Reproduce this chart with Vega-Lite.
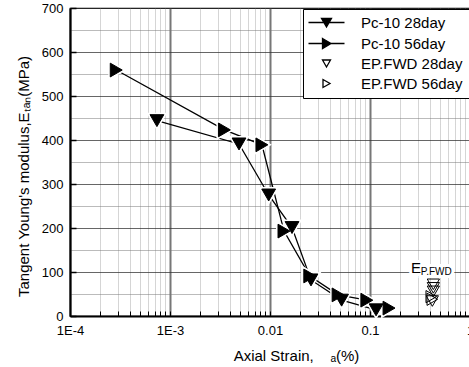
{
  "$schema": "https://vega.github.io/schema/vega-lite/v6.json",
  "width": 400,
  "height": 308,
  "autosize": {"type": "none"},
  "padding": {"left": 70, "top": 8, "right": 0, "bottom": 51},
  "background": "white",
  "config": {"font": "Liberation Sans", "view": {"stroke": "black", "strokeWidth": 1.2}},
  "datasets": {
    "pts": [
      {"series": "Pc-10 28day", "strain": 0.00074, "E": 444},
      {"series": "Pc-10 28day", "strain": 0.0049, "E": 391},
      {"series": "Pc-10 28day", "strain": 0.0097, "E": 275},
      {"series": "Pc-10 28day", "strain": 0.0166, "E": 201},
      {"series": "Pc-10 28day", "strain": 0.0257, "E": 82},
      {"series": "Pc-10 28day", "strain": 0.052, "E": 36},
      {"series": "Pc-10 28day", "strain": 0.115, "E": 14},
      {"series": "Pc-10 56day", "strain": 0.00029, "E": 559},
      {"series": "Pc-10 56day", "strain": 0.0035, "E": 423},
      {"series": "Pc-10 56day", "strain": 0.0083, "E": 389},
      {"series": "Pc-10 56day", "strain": 0.0138, "E": 193},
      {"series": "Pc-10 56day", "strain": 0.025, "E": 91},
      {"series": "Pc-10 56day", "strain": 0.048, "E": 48},
      {"series": "Pc-10 56day", "strain": 0.093, "E": 36},
      {"series": "Pc-10 56day", "strain": 0.155, "E": 18},
      {"series": "EP.FWD 28day", "strain": 0.43, "E": 72},
      {"series": "EP.FWD 28day", "strain": 0.43, "E": 64},
      {"series": "EP.FWD 28day", "strain": 0.43, "E": 56},
      {"series": "EP.FWD 28day", "strain": 0.42, "E": 34},
      {"series": "EP.FWD 56day", "strain": 0.41, "E": 44},
      {"series": "EP.FWD 56day", "strain": 0.42, "E": 38}
    ],
    "lblE": [{"strain": 0.288, "E": 109, "t": "E"}],
    "lblSub": [{"strain": 0.322, "E": 99, "t": "P.FWD"}]
  },
  "encoding": {
    "x": {
      "field": "strain", "type": "quantitative",
      "scale": {"type": "log", "domain": [0.0001, 1], "nice": false},
      "axis": {
        "values": [0.0001,0.0002,0.0003,0.0004,0.0005,0.0006,0.0007,0.0008,0.0009,0.001,0.002,0.003,0.004,0.005,0.006,0.007,0.008,0.009,0.01,0.02,0.03,0.04,0.05,0.06,0.07,0.08,0.09,0.1,0.2,0.3,0.4,0.5,0.6,0.7,0.8,0.9,1],
        "labelExpr": "abs(log(datum.value)/LN10 - round(log(datum.value)/LN10)) < 0.001 ? (datum.value < 0.0005 ? '1E-4' : datum.value < 0.005 ? '1E-3' : datum.value < 0.05 ? '0.01' : datum.value < 0.5 ? '0.1' : '1') : ''",
        "labelOverlap": false,
        "labelFontSize": 13, "labelColor": "black", "labelPadding": 13, "labelFlush": false,
        "grid": true,
        "gridColor": {"condition": {"test": "abs(log(datum.value)/LN10 - round(log(datum.value)/LN10)) < 0.001", "value": "#777"}, "value": "#aaa"},
        "gridWidth": {"condition": {"test": "abs(log(datum.value)/LN10 - round(log(datum.value)/LN10)) < 0.001", "value": 2}, "value": 1},
        "gridDash": {"condition": {"test": "abs(log(datum.value)/LN10 - round(log(datum.value)/LN10)) < 0.001", "value": [1, 0]}, "value": [1, 1]},
        "domainColor": "black", "domainWidth": 2,
        "tickSize": -5, "tickColor": "black", "tickWidth": 1,
        "title": "Axial Strain,\u00a0\u00a0\u00a0\u00a0ₐ(%)",
        "titleFontSize": 15, "titleFontWeight": "normal", "titleColor": "black",
        "titleX": 226, "titleY": 39, "titleBaseline": "middle"
      }
    },
    "y": {
      "field": "E", "type": "quantitative",
      "scale": {"domain": [0, 700], "nice": false, "zero": true},
      "axis": {
        "values": [0,50,100,150,200,250,300,350,400,450,500,550,600,650,700],
        "labelExpr": "datum.value % 100 === 0 ? datum.label : ''",
        "labelFontSize": 13, "labelColor": "black", "labelPadding": 13,
        "grid": true,
        "gridColor": {"condition": {"test": "datum.value % 100 === 0", "value": "#333"}, "value": "#777"},
        "gridDash": {"condition": {"test": "datum.value % 100 === 0", "value": [1, 0]}, "value": [1, 1]},
        "gridWidth": 1,
        "domainColor": "black", "domainWidth": 2,
        "tickSize": -6, "tickColor": "black", "tickWidth": 1.5,
        "tickOpacity": {"condition": {"test": "datum.value % 100 === 0", "value": 1}, "value": 0},
        "title": "Tangent Young's modulus,Eₜₐₙ(MPa)",
        "titleFontSize": 15, "titleFontWeight": "normal", "titleColor": "black",
        "titleX": -47, "titleY": 168, "titleBaseline": "middle", "titleAngle": -90
      }
    }
  },
  "layer": [
    {
      "data": {"name": "pts"},
      "transform": [{"filter": "indexof(datum.series, 'Pc-10') === 0"}],
      "mark": {"type": "line", "color": "black", "strokeWidth": 1.3},
      "encoding": {"detail": {"field": "series"}}
    },
    {
      "data": {"name": "pts"},
      "transform": [{"filter": "datum.series === 'Pc-10 28day'"}],
      "mark": {"type": "point", "shape": "triangle-down", "filled": true, "size": 190, "color": "white", "stroke": "white", "strokeWidth": 4, "opacity": 1}
    },
    {
      "data": {"name": "pts"},
      "transform": [{"filter": "datum.series === 'Pc-10 56day'"}],
      "mark": {"type": "point", "shape": "triangle-right", "filled": true, "size": 190, "color": "white", "stroke": "white", "strokeWidth": 4, "opacity": 1}
    },
    {
      "data": {"name": "pts"},
      "transform": [{"filter": "datum.series === 'Pc-10 28day'"}],
      "mark": {"type": "point", "shape": "triangle-down", "filled": true, "size": 190, "color": "black", "stroke": "black", "strokeWidth": 1, "opacity": 1}
    },
    {
      "data": {"name": "pts"},
      "transform": [{"filter": "datum.series === 'Pc-10 56day'"}],
      "mark": {"type": "point", "shape": "triangle-right", "filled": true, "size": 190, "color": "black", "stroke": "black", "strokeWidth": 1, "opacity": 1}
    },
    {
      "data": {"name": "pts"},
      "transform": [{"filter": "datum.series === 'EP.FWD 28day'"}],
      "mark": {"type": "point", "shape": "triangle-down", "filled": false, "size": 150, "fill": null, "stroke": "black", "strokeWidth": 1, "opacity": 1}
    },
    {
      "data": {"name": "pts"},
      "transform": [{"filter": "datum.series === 'EP.FWD 56day'"}],
      "mark": {"type": "point", "shape": "triangle-right", "filled": false, "size": 150, "fill": null, "stroke": "black", "strokeWidth": 1, "opacity": 1}
    },
    {
      "data": {"name": "pts"},
      "transform": [{"filter": "false"}],
      "mark": {"type": "point", "filled": true, "size": 100, "strokeWidth": 1.3, "opacity": 1},
      "encoding": {
        "shape": {
          "field": "series", "type": "nominal",
          "scale": {"domain": ["Pc-10 28day", "Pc-10 56day", "EP.FWD 28day", "EP.FWD 56day"], "range": ["M-3.6,0H3.6M-1,-0.8L1,-0.8L0,0.9Z", "M-3.6,0H3.6M-0.8,-1L0.9,0L-0.8,1Z", "M-0.8,-0.7L0.8,-0.7L0,0.7Z", "M-0.7,-0.8L0.7,0L-0.7,0.8Z"]},
          "legend": {
            "title": null, "orient": "top-right", "offset": 1,
            "strokeColor": "black", "fillColor": "white", "padding": 6,
            "labelFontSize": 15, "labelColor": "black", "labelFont": "Liberation Sans",
            "symbolSize": 100, "symbolStrokeWidth": 1.3,
            "rowPadding": 4, "symbolOffset": 10, "labelOffset": 27
          }
        },
        "fill": {
          "field": "series", "type": "nominal",
          "scale": {"domain": ["Pc-10 28day", "Pc-10 56day", "EP.FWD 28day", "EP.FWD 56day"], "range": ["black", "black", "transparent", "transparent"]},
          "legend": {
            "title": null, "orient": "top-right", "offset": 1,
            "strokeColor": "black", "fillColor": "white", "padding": 6,
            "labelFontSize": 15, "labelColor": "black", "labelFont": "Liberation Sans",
            "symbolSize": 100, "symbolStrokeWidth": 1.3,
            "rowPadding": 4, "symbolOffset": 10, "labelOffset": 27
          }
        },
        "stroke": {
          "field": "series", "type": "nominal",
          "scale": {"domain": ["Pc-10 28day", "Pc-10 56day", "EP.FWD 28day", "EP.FWD 56day"], "range": ["black", "black", "black", "black"]},
          "legend": {
            "title": null, "orient": "top-right", "offset": 1,
            "strokeColor": "black", "fillColor": "white", "padding": 6,
            "labelFontSize": 15, "labelColor": "black", "labelFont": "Liberation Sans",
            "symbolSize": 100, "symbolStrokeWidth": 1.3,
            "rowPadding": 4, "symbolOffset": 10, "labelOffset": 27
          }
        }
      }
    },
    {
      "data": {"name": "lblE"},
      "mark": {"type": "text", "fontSize": 15, "stroke": "white", "strokeWidth": 6, "fill": "white", "baseline": "middle"},
      "encoding": {"text": {"field": "t"}}
    },
    {
      "data": {"name": "lblSub"},
      "mark": {"type": "text", "fontSize": 10, "align": "left", "stroke": "white", "strokeWidth": 6, "fill": "white", "baseline": "middle"},
      "encoding": {"text": {"field": "t"}}
    },
    {
      "data": {"name": "lblE"},
      "mark": {"type": "text", "fontSize": 15, "color": "black", "baseline": "middle"},
      "encoding": {"text": {"field": "t"}}
    },
    {
      "data": {"name": "lblSub"},
      "mark": {"type": "text", "fontSize": 10, "align": "left", "color": "black", "baseline": "middle"},
      "encoding": {"text": {"field": "t"}}
    }
  ]
}
